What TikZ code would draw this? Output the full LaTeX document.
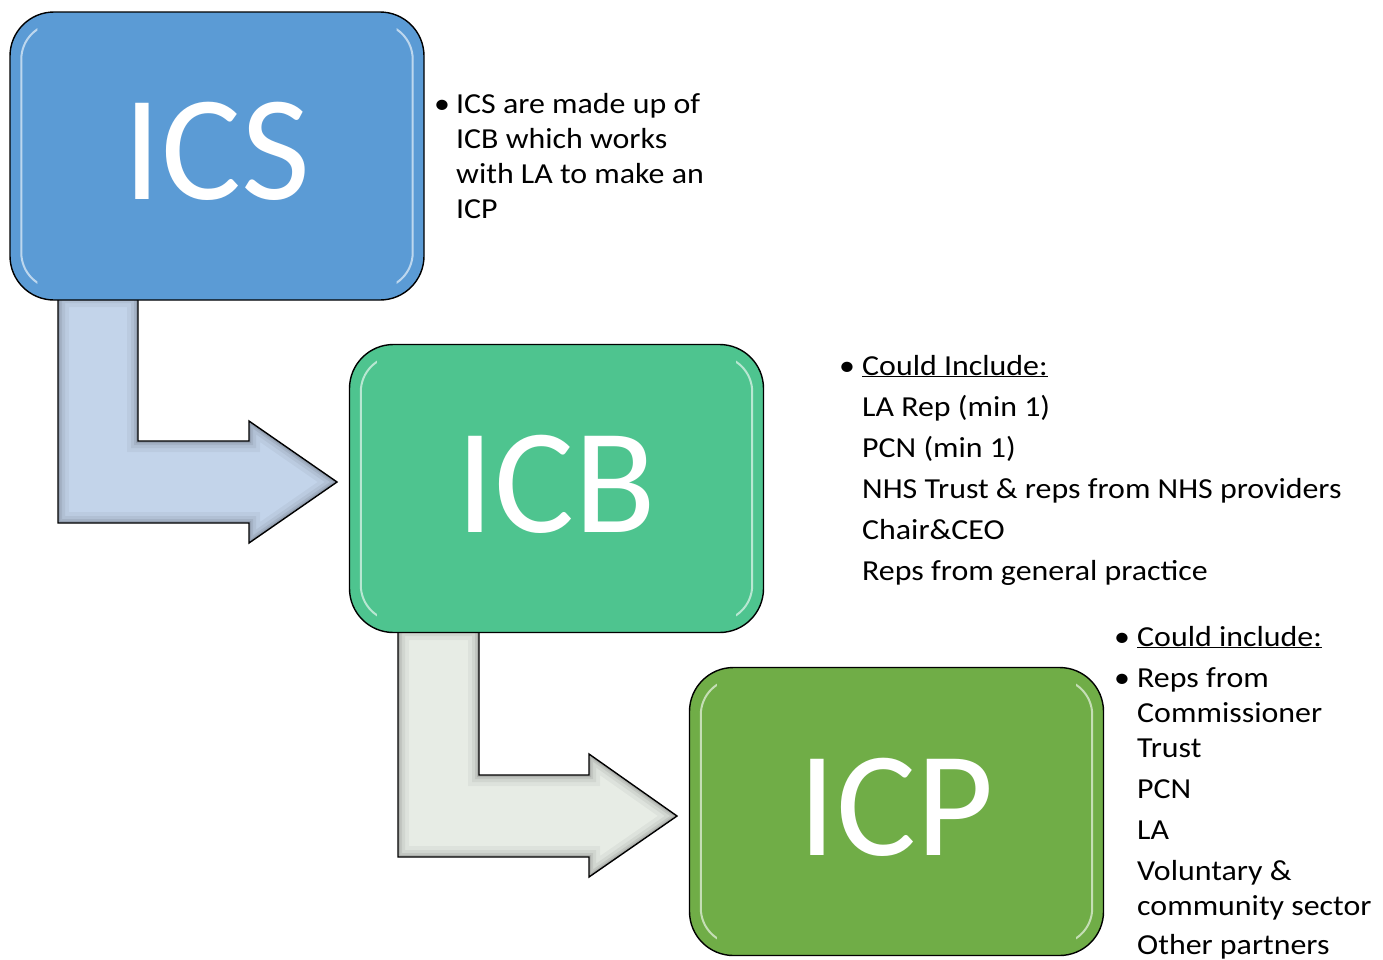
\documentclass[tikz,border=0pt]{standalone}
\usepackage{fontspec}
\setmainfont{Carlito}
\newfontfamily\sidefont[FakeStretch=1.10]{Carlito}
\definecolor{icsblue}{HTML}{5B9BD5}
\definecolor{icbgreen}{HTML}{4EC48F}
\definecolor{icpgreen}{HTML}{70AD47}
\definecolor{arrowblue}{HTML}{C3D4EA}
\definecolor{arrowgrey}{HTML}{E7ECE5}
\tikzset{
  bigbox/.style={draw=black, line width=1.4pt, rounded corners=44pt,
    minimum width=414pt, minimum height=288pt, inner sep=0pt, text depth=10pt,
    text=white, font=\fontsize{150}{150}\selectfont},
  bentarrow/.style={draw=black, line width=1.4pt, line join=miter},
  txt/.style={anchor=base west, inner sep=0pt, font=\sidefont\fontsize{29}{34}\selectfont},
  bul/.style={anchor=base west, inner sep=0pt, font=\sidefont\fontsize{29}{34}\selectfont},
  gloss/.style={white, opacity=0.6, line width=2pt, rounded corners=36pt},
}
\begin{document}
\begin{tikzpicture}[x=1pt,y=-1pt]
\useasboundingbox (0,0) rectangle (1383,959);

% bent arrows (drawn first, boxes cover their tops)
\def\arrowA{(58,296) -- (138,296) -- (138,441) -- (249,441) -- (249,421) -- (337,482) -- (249,543) -- (249,523) -- (58,523) -- cycle}
\def\arrowB{(398,629) -- (479,629) -- (479,775) -- (589,775) -- (589,754) -- (677,816) -- (589,877) -- (589,857) -- (398,857) -- cycle}
\fill[arrowblue] \arrowA;
\begin{scope}
  \clip \arrowA;
  \draw[black, opacity=0.04, line width=22pt] \arrowA;
  \draw[black, opacity=0.05, line width=14pt] \arrowA;
  \draw[black, opacity=0.07, line width=8pt] \arrowA;
  \draw[black, opacity=0.10, line width=4pt] \arrowA;
\end{scope}
\draw[bentarrow] \arrowA;
\fill[arrowgrey] \arrowB;
\begin{scope}
  \clip \arrowB;
  \draw[black, opacity=0.04, line width=22pt] \arrowB;
  \draw[black, opacity=0.05, line width=14pt] \arrowB;
  \draw[black, opacity=0.07, line width=8pt] \arrowB;
  \draw[black, opacity=0.10, line width=4pt] \arrowB;
\end{scope}
\draw[bentarrow] \arrowB;

% boxes
\node[bigbox, fill=icsblue] (ics) at (217,156) {ICS};
\node[bigbox, fill=icbgreen] (icb) at (556.5,488.5) {ICB};
\node[bigbox, fill=icpgreen] (icp) at (896.5,811.5) {ICP};

% glossy highlights on the box sides
\foreach \b in {ics,icb,icp}{
  \begin{scope}
    \clip ([xshift=-2pt]\b.north west) rectangle ([xshift=28pt,yshift=-2pt]\b.south west);
    \draw[gloss]
      ([xshift=12pt,yshift=-12pt]\b.north west) rectangle ([xshift=-12pt,yshift=12pt]\b.south east);
  \end{scope}
  \begin{scope}
    \clip ([xshift=-28pt]\b.north east) rectangle ([xshift=2pt,yshift=-2pt]\b.south east);
    \draw[gloss]
      ([xshift=12pt,yshift=-12pt]\b.north west) rectangle ([xshift=-12pt,yshift=12pt]\b.south east);
  \end{scope}
}

% text for ICS
\node[bul] (b1) at (434,113) {\textbullet};
\node[txt] (t1a) at (456,113) {ICS are made up of};
\node[txt] (t1b) at (456,148) {ICB which works};
\node[txt] (t1c) at (456,183) {with LA to make an};
\node[txt] (t1d) at (456,218) {ICP};

% text for ICB
\node[bul] (b2) at (839,375) {\textbullet};
\node[txt] (t2a) at (862,375) {\underline{Could Include:}};
\node[txt] (t2b) at (862,416) {LA Rep (min 1)};
\node[txt] (t2c) at (862,457) {PCN (min 1)};
\node[txt] (t2d) at (862,498) {NHS Trust \& reps from NHS providers};
\node[txt] (t2e) at (862,539) {Chair\&CEO};
\node[txt] (t2f) at (862,580) {Reps from general practice};

% text for ICP
\node[bul] (b3) at (1114,646) {\textbullet};
\node[txt] (t3a) at (1137,646) {\underline{Could include:}};
\node[bul] (b4) at (1114,687) {\textbullet};
\node[txt] (t3b) at (1137,687) {Reps from};
\node[txt] (t3c) at (1137,722) {Commissioner};
\node[txt] (t3d) at (1137,757) {Trust};
\node[txt] (t3e) at (1137,798) {PCN};
\node[txt] (t3f) at (1137,839) {LA};
\node[txt] (t3g) at (1137,880) {Voluntary \&};
\node[txt] (t3h) at (1137,915) {community sector};
\node[txt] (t3i) at (1137,954) {Other partners};
\end{tikzpicture}
\end{document}
